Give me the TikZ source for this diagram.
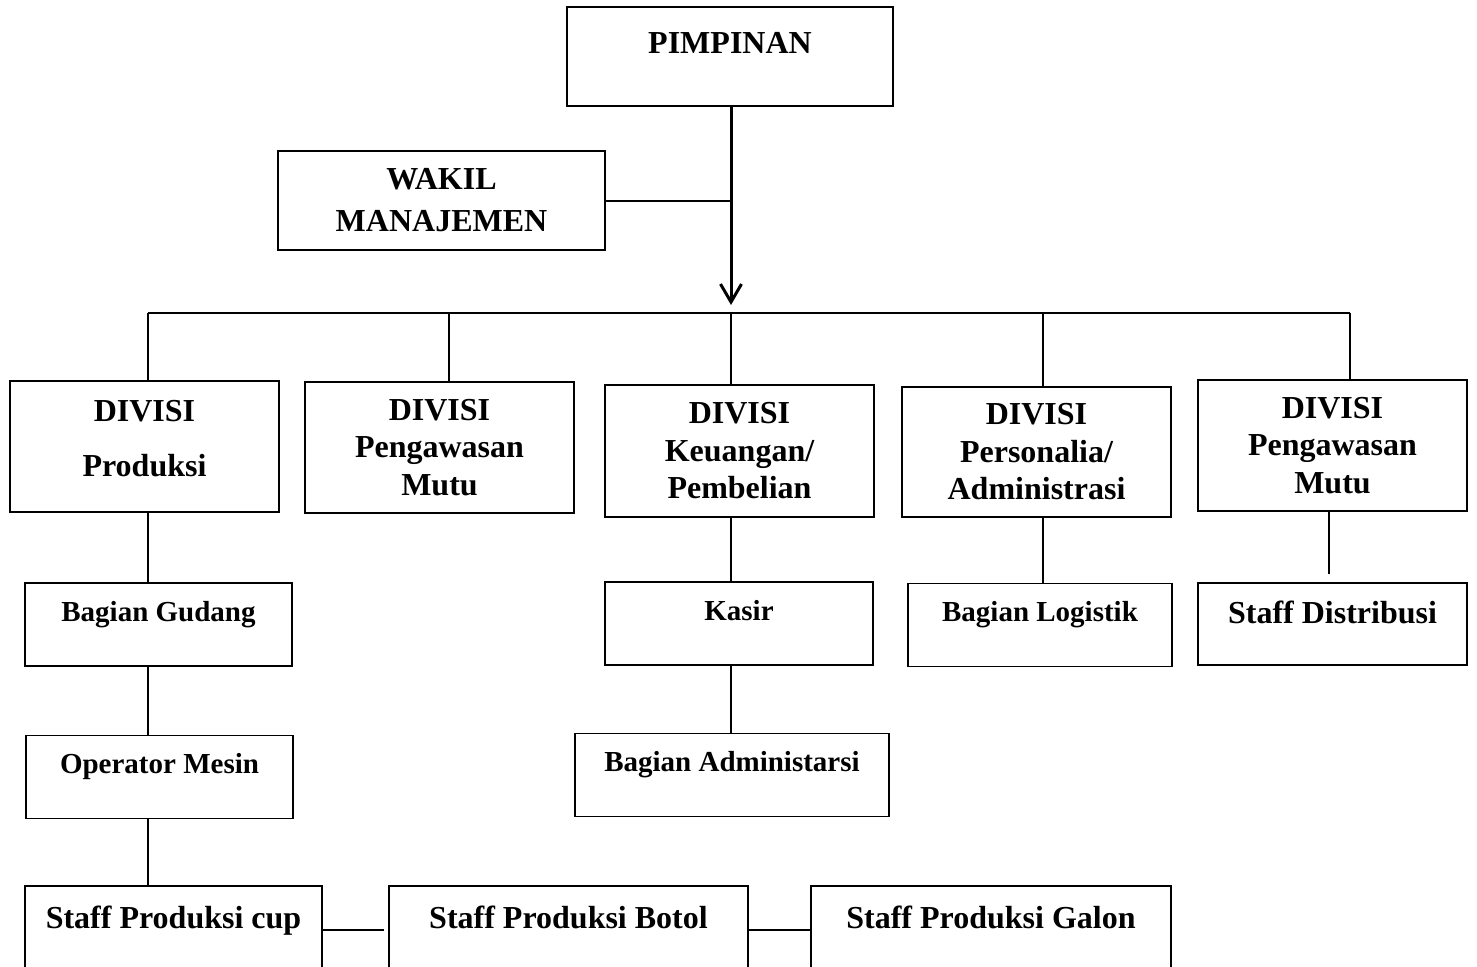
\documentclass[tikz,border=0pt]{standalone}
\usepackage{fontspec}
\setmainfont{Liberation Serif}
\usetikzlibrary{arrows.meta}
\tikzstyle{box} = [draw,line width=0.75pt,inner sep=0pt,align=center,font=\bfseries\fontsize{16}{18.75}\selectfont]
\tikzstyle{small} = [font=\bfseries\fontsize{14.5}{17}\selectfont,text height=19pt,text depth=22.5pt]
\tikzstyle{staff} = [box,text height=21.3pt,text depth=22.7pt]
\tikzstyle{divisi} = [box,minimum width=134.5pt,minimum height=65.5pt]
\tikzstyle{line} = [line width=0.75pt]
\tikzstyle{arrow} = [line width=1.5pt,-{Straight Barb[length=9pt,width=10.5pt]}]

\begin{document}
\begin{tikzpicture}[x=0.5pt,y=-0.5pt]
\useasboundingbox (0,0) rectangle (1477,966);

\node[box,minimum width=163pt,text height=23.3pt,text depth=26.2pt] (pimpinan) at (730,56.5) {PIMPINAN};
\node[box,minimum width=163.5pt,minimum height=49.5pt] (wakil) at (441.5,200.5) {WAKIL\\[2.25pt]MANAJEMEN};

\node[divisi,text depth=8pt] (produksi) at (144.5,446.5) {DIVISI\\[8.75pt]Produksi};
\node[divisi] (mutu) at (439.5,447.5) {DIVISI\\Pengawasan\\Mutu};
\node[divisi,minimum height=66pt] (keuangan) at (739.5,451) {DIVISI\\Keuangan/\\Pembelian};
\node[divisi,minimum height=65pt] (personalia) at (1036.5,452) {DIVISI\\Personalia/\\Administrasi};
\node[divisi] (mutudua) at (1332.5,445.5) {DIVISI\\Pengawasan\\Mutu};

\node[box,small,minimum width=133.5pt] (gudang) at (158.5,624.5) {Bagian Gudang};
\node[box,small,minimum width=133.5pt] (operator) at (159.5,777) {Operator Mesin};
\node[box,small,minimum width=134pt] (kasir) at (739,623.5) {Kasir};
\node[box,small,minimum width=157pt] (admin) at (732,775) {Bagian Administarsi};
\node[box,small,minimum width=132pt] (logistik) at (1040,625) {Bagian Logistik};
\node[box,minimum width=134.5pt,text height=20.3pt,text depth=20.7pt] (distribusi) at (1332.5,624) {Staff Distribusi};

\node[staff,minimum width=148.5pt] (cup) at (173.5,930) {Staff Produksi cup};
\node[staff,minimum width=179.5pt] (botol) at (568.5,930) {Staff Produksi Botol};
\node[staff,minimum width=180pt] (galon) at (991,930) {Staff Produksi Galon};

\coordinate (b1) at (148,313);
\coordinate (b2) at (449,313);
\coordinate (b3) at (731,313);
\coordinate (b4) at (1043,313);
\coordinate (b5) at (1350,313);
\coordinate (tip) at (731,305);

\draw[arrow] (pimpinan.south -| tip) -- (tip);
\draw[line width=1pt] (wakil.east) -- (wakil.east -| tip);
\draw[line] (b1) -- (b5);
\foreach \n/\b in {produksi/b1,mutu/b2,keuangan/b3,personalia/b4,mutudua/b5}
\draw[line] (\b) -- (\b |- \n.north);

\draw[line] (produksi.south -| b1) -- (gudang.north -| b1);
\draw[line] (gudang.south -| b1) -- (operator.north -| b1);
\draw[line] (operator.south -| b1) -- (cup.north -| b1);
\draw[line] (keuangan.south -| b3) -- (kasir.north -| b3);
\draw[line] (kasir.south -| b3) -- (admin.north -| b3);
\draw[line] (personalia.south -| b4) -- (logistik.north -| b4);
\draw[line] ([xshift=-1.75pt]mutudua.south) -- ([xshift=-1.75pt,yshift=4pt]distribusi.north);
\draw[line width=1pt] (cup.east) -- ([xshift=-2pt]botol.west);
\draw[line width=1pt] (botol.east) -- (galon.west);
\end{tikzpicture}
\end{document}
